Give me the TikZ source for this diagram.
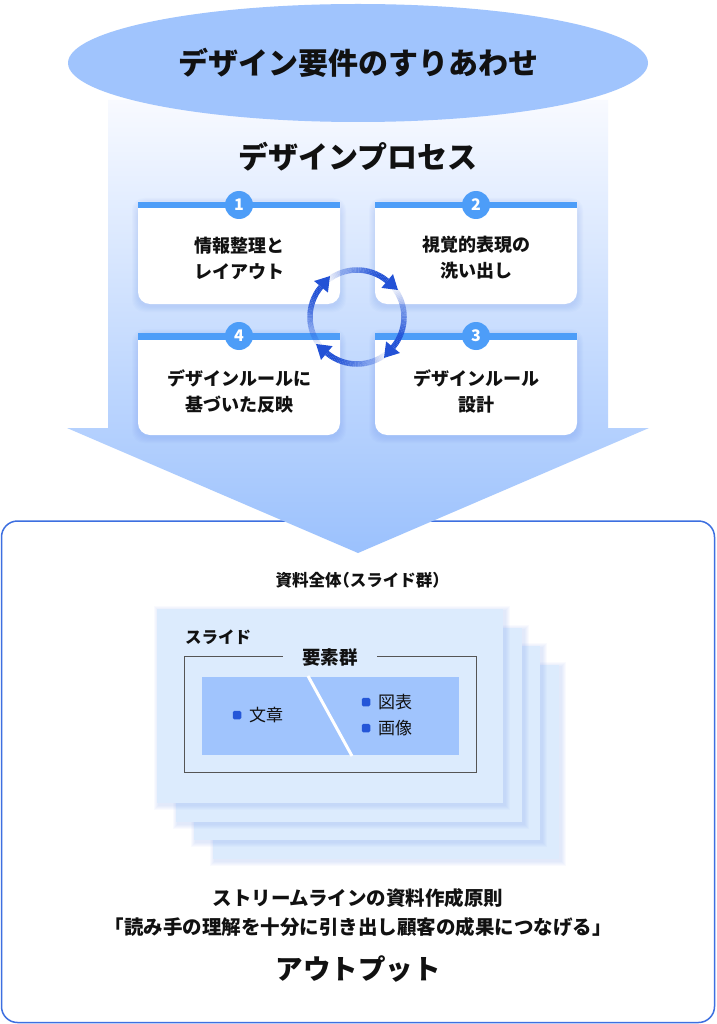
\documentclass[tikz,border=0pt]{standalone}
\usepackage{fontspec}
\setmainfont{Noto Sans CJK JP}
\usetikzlibrary{calc,shapes.geometric}
\definecolor{ellfill}{HTML}{A0C4FD}
\definecolor{shafttop}{HTML}{F8FAFF}
\definecolor{shaftbot}{HTML}{9BC1FD}
\definecolor{barblue}{HTML}{4D9DF8}
\definecolor{cycblue}{HTML}{2352D6}
\definecolor{boxblue}{HTML}{3D6FE0}
\definecolor{slidefill}{HTML}{DCEBFD}
\definecolor{innerfill}{HTML}{A0C4FD}
\definecolor{bulletblue}{HTML}{2456D8}
\definecolor{shadowblue}{HTML}{5F87EA}
\definecolor{txt}{HTML}{111111}
\definecolor{grpline}{HTML}{555555}
\tikzset{
  bigtitle/.style={font=\fontsize{30}{36}\selectfont\bfseries, text=txt, inner sep=0pt},
  cardtext/.style={font=\fontsize{18}{26}\selectfont\bfseries, align=center, text=txt, inner sep=0pt},
  numc/.style={circle, fill=barblue, minimum size=28pt, inner sep=0pt, text=white,
    font=\fontsize{16}{16}\selectfont\bfseries},
  midlabel/.style={font=\fontsize{16.5}{20}\selectfont\bfseries, text=txt, inner sep=0pt},
  itemtext/.style={font=\fontsize{17}{20}\selectfont, text=txt, inner sep=0pt, anchor=west},
  bullet/.style={fill=bulletblue, rounded corners=1.5pt, minimum size=8.5pt, inner sep=0pt},
  outtext/.style={font=\fontsize{19.5}{24}\selectfont\bfseries, text=txt, inner sep=0pt},
  cycline/.style={draw=cycblue, line width=5.5pt},
}
\begin{document}
\begin{tikzpicture}[x=1pt,y=1pt]
\useasboundingbox (0,0) rectangle (716,-1024);
\fill[white] (0,0) rectangle (716,-1024);

% output box
\draw[boxblue, line width=1.5pt, fill=white, rounded corners=16pt] (1.5,-521) rectangle (714.5,-1022.5);

% big arrow
\shade[top color=shafttop, bottom color=shaftbot]
  (108,-100) -- (608,-100) -- (608,-428) -- (649,-428) -- (358,-553)
  -- (67,-428) -- (108,-428) -- cycle;

% ellipse
\node[ellipse, fill=ellfill, minimum width=580pt, minimum height=118pt, inner sep=0pt] (req) at (358,-63) {};
\node[bigtitle] (reqt) at (358,-63) {デザイン要件のすりあわせ};

\node[bigtitle] (proc) at (358,-157) {デザインプロセス};

% cards
\foreach \x/\y/\n/\nm in {138/202/1/ca, 375/202/2/cb, 375/333/3/cc, 138/333/4/cd} {
  \foreach \i in {1,...,6}
    \fill[shadowblue, opacity=0.03, rounded corners=12pt]
      (\x-\i, -\y+\i-2) rectangle (\x+202+\i, -\y-102-\i-2);
  \fill[white] (\x,-\y) -- (\x+202,-\y) [rounded corners=12pt] -- (\x+202,-\y-102) -- (\x,-\y-102) [sharp corners] -- cycle;
  \fill[barblue] (\x,-\y) rectangle (\x+202,-\y-6.5);
  \node[numc] (\nm) at (\x+101,-\y-3) {\n};
}
\node[cardtext] (t1) at (239,-258) {情報整理と\\レイアウト};
\node[cardtext] (t2) at (476,-258) {視覚的表現の\\洗い出し};
\node[cardtext] (t3) at (476,-391) {デザインルール\\設計};
\node[cardtext] (t4) at (239,-391) {デザインルールに\\基づいた反映};

% cycle arrows
\coordinate (cyc) at (357,-317);
\foreach \k in {0,1,2,3} {
  \pgfmathsetmacro\s{130-90*\k}
  \pgfmathsetmacro\e{50-90*\k}
  \foreach \j in {0,...,39} {
    \pgfmathsetmacro\a{\s-2*\j}
    \pgfmathsetmacro\b{\s-2*\j-2.05}
    \pgfmathsetmacro\op{min(1,(\j+1)/34)}
    \draw[cycline, opacity=\op] ($(cyc)+(\a:47pt)$) arc[start angle=\a, end angle=\b, radius=47pt];
  }
  \pgfmathsetmacro\t{\e-90}
  \fill[cycblue] ($(cyc)+(\e:47pt)+(\t:14pt)$) -- ($(cyc)+(\e:56pt)$) -- ($(cyc)+(\e:38pt)$) -- cycle;
}

% slides
\node[midlabel] (all) at (358,-580) {資料全体{\addfontfeature{RawFeature=+halt}（}スライド群{\addfontfeature{RawFeature=+halt}）}};
\foreach \d in {55.5,37,18.5,0} {
  \foreach \i in {1,...,5}
    \fill[shadowblue, opacity=0.035]
      (157+\d-\i+2, -609-\d+\i-2) rectangle (503+\d+\i+2, -803-\d-\i-2);
  \fill[slidefill] (157+\d,-609-\d) rectangle (503+\d,-803-\d);
}
\node[midlabel, anchor=west] (sl) at (185,-637) {スライド};
\draw[grpline, line width=0.9pt] (184,-656) rectangle (476,-772);
\node[midlabel, fill=slidefill, inner xsep=19pt, inner ysep=2pt, font=\fontsize{18.5}{20}\selectfont\bfseries] (grp) at (330,-657) {要素群};
\fill[innerfill] (202,-677) rectangle (459,-755);
\draw[white, line width=3pt] (308,-676) -- (352,-756);
\node[bullet] (b1) at (237,-715) {};
\node[itemtext] (i1) at (249,-715) {文章};
\node[bullet] (b2) at (366,-702) {};
\node[itemtext] (i2) at (378,-702) {図表};
\node[bullet] (b3) at (366,-728) {};
\node[itemtext] (i3) at (378,-728) {画像};

% output texts
\node[outtext] (p1) at (358,-898) {ストリームラインの資料作成原則};
\node[outtext] (p2) at (358,-927) {「読み手の理解を十分に引き出し顧客の成果につなげる」};
\node[bigtitle, font=\fontsize{27.5}{30}\selectfont\bfseries] (p3) at (358,-969) {アウトプット};
\end{tikzpicture}
\end{document}
